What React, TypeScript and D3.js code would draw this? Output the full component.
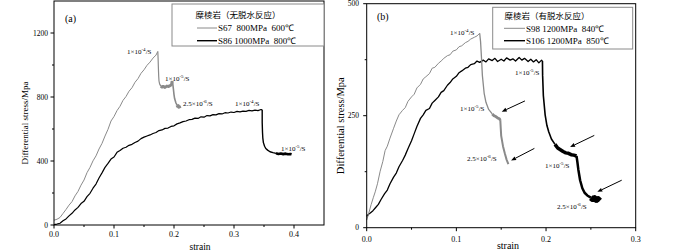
import React from "react";
import * as d3 from "d3";

type P = [number, number];

// ---------- Panel (a) data ----------
const s67Load: P[] = [
  [0, 30], [0.005, 36], [0.01, 47], [0.015, 72], [0.02, 97], [0.025, 124], [0.03, 146], [0.035, 182],
  [0.04, 210], [0.045, 249], [0.05, 281], [0.055, 327], [0.06, 360], [0.065, 401], [0.07, 432],
  [0.075, 475], [0.08, 510], [0.085, 556], [0.09, 598], [0.095, 650], [0.1, 678], [0.105, 715],
  [0.11, 742], [0.115, 779], [0.12, 803], [0.125, 836], [0.13, 858], [0.135, 892], [0.14, 915],
  [0.145, 948], [0.15, 970], [0.155, 998], [0.16, 1018], [0.165, 1043], [0.17, 1062], [0.173, 1085],
];
const s67Drop1: P[] = [
  [0.173, 1085], [0.1735, 1040], [0.174, 980], [0.1745, 930], [0.175, 900], [0.176, 882], [0.178, 868],
];
const s67Hold1: P[] = [
  [0.178, 868], [0.18, 862], [0.182, 866], [0.185, 860], [0.188, 868], [0.191, 866], [0.194, 872],
  [0.196, 880], [0.197, 900],
];
const s67Drop2: P[] = [
  [0.197, 900], [0.198, 880], [0.199, 850], [0.2, 815], [0.201, 790], [0.203, 765], [0.205, 750],
];
const s67Hold2: P[] = [
  [0.205, 750], [0.206, 742], [0.207, 746], [0.208, 736], [0.209, 740], [0.21, 730],
];

const s86Load: P[] = [
  [0, 2], [0.005, 6], [0.01, 11], [0.015, 26], [0.02, 38], [0.025, 57], [0.03, 73], [0.035, 94],
  [0.04, 110], [0.045, 134], [0.05, 148], [0.055, 177], [0.06, 198], [0.065, 230], [0.07, 256],
  [0.075, 294], [0.08, 326], [0.085, 360], [0.09, 385], [0.095, 412], [0.1, 425], [0.105, 454],
  [0.11, 466], [0.115, 480], [0.12, 486], [0.125, 498], [0.13, 504], [0.135, 516], [0.14, 524],
  [0.145, 540], [0.15, 549], [0.155, 556], [0.16, 563], [0.165, 572], [0.17, 578], [0.175, 590],
  [0.18, 594], [0.185, 604], [0.19, 606], [0.195, 616], [0.2, 620], [0.205, 632], [0.21, 638],
  [0.215, 646], [0.22, 650], [0.225, 658], [0.23, 660], [0.235, 668], [0.24, 666], [0.245, 676],
  [0.25, 674], [0.255, 684], [0.26, 682], [0.265, 690], [0.27, 688], [0.275, 696], [0.28, 694],
  [0.285, 702], [0.29, 700], [0.295, 706], [0.3, 703], [0.305, 710], [0.31, 707], [0.315, 712],
  [0.32, 710], [0.325, 716], [0.33, 713], [0.335, 718], [0.34, 715], [0.345, 722], [0.347, 720],
];
const s86Drop: P[] = [
  [0.347, 720], [0.347, 640], [0.3475, 580], [0.348, 545], [0.349, 515], [0.351, 492], [0.353, 478],
  [0.356, 468], [0.36, 458], [0.365, 452], [0.37, 448],
];
const s86Hold: P[] = [
  [0.37, 448], [0.374, 444], [0.378, 447], [0.382, 443], [0.386, 446], [0.39, 442], [0.394, 444],
  [0.396, 442],
];

// ---------- Panel (b) data ----------
const s98Load: P[] = [
  [0, 17], [0.002, 30], [0.005, 52], [0.0075, 68], [0.0095, 80], [0.012, 98], [0.015, 126],
  [0.018, 148], [0.0205, 172], [0.023, 182], [0.026, 200], [0.03, 222], [0.033, 238], [0.036, 252],
  [0.04, 262], [0.043, 268], [0.046, 282], [0.05, 292], [0.053, 298], [0.056, 312], [0.06, 320],
  [0.063, 332], [0.066, 337], [0.07, 344], [0.073, 356], [0.076, 358], [0.08, 367], [0.083, 372],
  [0.086, 378], [0.09, 384], [0.093, 386], [0.096, 394], [0.1, 397], [0.103, 404], [0.106, 406],
  [0.11, 413], [0.113, 416], [0.116, 421], [0.12, 425], [0.123, 428], [0.126, 434],
];
const s98Drop1: P[] = [
  [0.126, 434], [0.127, 415], [0.128, 380], [0.129, 340], [0.131, 300], [0.133, 280], [0.136, 264],
  [0.14, 254],
];
const s98Hold1: P[] = [
  [0.14, 254], [0.142, 250], [0.144, 248], [0.146, 245], [0.148, 243], [0.149, 240],
];
const s98Drop2: P[] = [
  [0.149, 240], [0.1495, 222], [0.15, 205], [0.152, 182], [0.154, 166], [0.156, 152], [0.158, 142],
];

const s106Load: P[] = [
  [0, 25], [0.002, 30], [0.004, 33], [0.007, 38], [0.01, 45], [0.013, 52], [0.016, 63], [0.02, 76],
  [0.023, 84], [0.026, 98], [0.03, 113], [0.033, 122], [0.036, 136], [0.04, 150], [0.043, 162],
  [0.046, 176], [0.05, 194], [0.053, 210], [0.056, 226], [0.06, 244], [0.063, 252], [0.066, 262],
  [0.07, 266], [0.073, 278], [0.076, 284], [0.08, 292], [0.083, 302], [0.086, 306], [0.09, 318],
  [0.093, 324], [0.096, 332], [0.1, 338], [0.103, 346], [0.106, 350], [0.11, 356], [0.113, 358],
  [0.116, 364], [0.12, 366], [0.123, 372], [0.126, 369], [0.13, 374], [0.133, 370], [0.136, 377],
  [0.14, 373], [0.143, 378], [0.146, 371], [0.15, 376], [0.153, 372], [0.156, 379], [0.16, 374],
  [0.163, 377], [0.166, 372], [0.17, 380], [0.173, 374], [0.176, 378], [0.18, 371], [0.183, 376],
  [0.186, 370], [0.189, 375], [0.192, 368], [0.195, 374], [0.196, 372],
];
const s106Drop1: P[] = [
  [0.196, 372], [0.1962, 340], [0.197, 295], [0.199, 252], [0.201, 228], [0.203, 214], [0.206, 198],
  [0.21, 186],
];
const s106Hold1: P[] = [
  [0.21, 186], [0.213, 178], [0.216, 174], [0.219, 170], [0.222, 167], [0.225, 166], [0.228, 163],
  [0.231, 162], [0.234, 160],
];
const s106Drop2: P[] = [
  [0.234, 160], [0.235, 146], [0.236, 130], [0.238, 106], [0.2405, 88], [0.243, 78], [0.246, 72],
  [0.25, 67],
];
const s106Hold2: P[] = [
  [0.25, 67], [0.252, 64], [0.254, 66], [0.256, 62], [0.258, 64], [0.26, 60],
];

// ---------- Ticks ----------
const aXTicks = [0, 0.1, 0.2, 0.3, 0.4];
const aXMinor = [0.05, 0.15, 0.25, 0.35];
const aXTickLabels = ["0.0", "0.1", "0.2", "0.3", "0.4"];
const aYTicks = [0, 400, 800, 1200];
const aYMinor = [200, 600, 1000];
const aYTickLabels = ["0", "400", "800", "1200"];

const bXTicks = [0, 0.1, 0.2, 0.3];
const bXMinor = [0.05, 0.15, 0.25];
const bXTickLabels = ["0.0", "0.1", "0.2", "0.3"];
const bYTicks = [0, 250, 500];
const bYMinor = [125, 375];
const bYTickLabels = ["0", "250", "500"];

// ---------- Annotations ----------
type Note = { base: string; exp: string; x: number; y: number };
const aNotes: Note[] = [
  { base: "1×10", exp: "-4", x: 127, y: 54 },
  { base: "1×10", exp: "-5", x: 165, y: 81 },
  { base: "2.5×10", exp: "-6", x: 183, y: 106 },
  { base: "1×10", exp: "-4", x: 235, y: 106 },
  { base: "1×10", exp: "-5", x: 281, y: 151 },
];
const bNotes: Note[] = [
  { base: "1×10", exp: "-4", x: 450, y: 35 },
  { base: "1×10", exp: "-5", x: 515, y: 75 },
  { base: "1×10", exp: "-5", x: 460, y: 111 },
  { base: "2.5×10", exp: "-6", x: 467, y: 161 },
  { base: "1×10", exp: "-5", x: 545, y: 168 },
  { base: "2.5×10", exp: "-6", x: 557, y: 209 },
];
// arrows in data coordinates: [tail, head]
const bArrows: [P, P][] = [
  [[0.1765, 283], [0.1506, 259]],
  [[0.187, 177], [0.161, 150]],
  [[0.2538, 206], [0.2268, 180]],
  [[0.2844, 106], [0.2572, 80]],
];

const GRAY = "#8a8a8a";
const SERIF = "'Liberation Serif', 'Times New Roman', serif";
const CJK = "'Noto Sans CJK SC', sans-serif";

function NoteText({ n }: { n: Note }) {
  return (
    <text x={n.x} y={n.y} fontSize={7} fontFamily={SERIF} fill="#000">
      {n.base}
      <tspan dy={-3} fontSize={5}>{n.exp}</tspan>
      <tspan dy={3} fontSize={7}>/S</tspan>
    </text>
  );
}

type Seg = { pts: P[]; color: string; w: number };

function Panel(props: {
  x0: number; x1: number; y0: number; y1: number;
  xDom: [number, number]; yDom: [number, number];
  xTicks: number[]; xMinor: number[]; xLabels: string[];
  yTicks: number[]; yMinor: number[]; yLabels: string[];
  segs: Seg[]; xLabelY: number; yLabelX: number; yTitleX: number; yTitleSize: number;
  xTitleX: number; xTitleY: number; xTitleSize: number;
  arrows?: [P, P][];
}) {
  const x = d3.scaleLinear().domain(props.xDom).range([props.x0, props.x1]);
  const y = d3.scaleLinear().domain(props.yDom).range([props.y0, props.y1]);
  const line = d3.line<P>().x((d) => x(d[0])).y((d) => y(d[1]));
  const tl = 3.5;
  const tm = 2;
  return (
    <g>
      {props.segs.map((s, i) => (
        <path key={i} d={line(s.pts) || ""} fill="none" stroke={s.color} strokeWidth={s.w}
          strokeLinejoin="round" strokeLinecap="butt" />
      ))}
      <rect x={props.x0} y={props.y1} width={props.x1 - props.x0} height={props.y0 - props.y1}
        fill="none" stroke="#000" strokeWidth={1} />
      {props.xTicks.map((t, i) => (
        <g key={"xt" + i}>
          <line x1={x(t)} x2={x(t)} y1={props.y0} y2={props.y0 + tl} stroke="#000" strokeWidth={1} />
          <text x={x(t)} y={props.xLabelY} fontSize={8} fontFamily={SERIF} textAnchor="middle">
            {props.xLabels[i]}
          </text>
        </g>
      ))}
      {props.xMinor.map((t, i) => (
        <line key={"xm" + i} x1={x(t)} x2={x(t)} y1={props.y0} y2={props.y0 + tm} stroke="#000" strokeWidth={1} />
      ))}
      {props.yTicks.map((t, i) => (
        <g key={"yt" + i}>
          <line x1={props.x0 - tl} x2={props.x0} y1={y(t)} y2={y(t)} stroke="#000" strokeWidth={1} />
          <text x={props.yLabelX} y={y(t) + 2.6} fontSize={7.5} fontFamily={SERIF} textAnchor="end">
            {props.yLabels[i]}
          </text>
        </g>
      ))}
      {props.yMinor.map((t, i) => (
        <line key={"ym" + i} x1={props.x0 - tm} x2={props.x0} y1={y(t)} y2={y(t)} stroke="#000" strokeWidth={1} />
      ))}
      <text x={props.xTitleX} y={props.xTitleY} fontSize={props.xTitleSize} fontFamily={SERIF} textAnchor="middle">
        strain
      </text>
      <text transform={`translate(${props.yTitleX},${(props.y0 + props.y1) / 2 + 10}) rotate(-90)`}
        fontSize={props.yTitleSize} fontFamily={SERIF} textAnchor="middle">
        Differential stress/Mpa
      </text>
      {(props.arrows || []).map((a, i) => {
        const tx = x(a[0][0]), ty = y(a[0][1]), hx = x(a[1][0]), hy = y(a[1][1]);
        const ang = Math.atan2(hy - ty, hx - tx);
        const L = 5, W = 2;
        const bx = hx - L * Math.cos(ang), by = hy - L * Math.sin(ang);
        const px = -Math.sin(ang) * W, py = Math.cos(ang) * W;
        return (
          <g key={"ar" + i}>
            <line x1={tx} y1={ty} x2={bx} y2={by} stroke="#000" strokeWidth={1} />
            <polygon points={`${hx},${hy} ${bx + px},${by + py} ${bx - px},${by - py}`} fill="#000" />
          </g>
        );
      })}
    </g>
  );
}

const pre: React.CSSProperties = { whiteSpace: "pre" };

export default function App() {
  return (
    <div style={{ position: "fixed", left: 0, top: 0, width: 700, height: 252, background: "#fff" }}>
      <svg width={700} height={252} viewBox="0 0 700 252" style={{ display: "block" }}>
        <rect width={700} height={252} fill="#fff" />
        <Panel
          x0={54} x1={324} y0={225} y1={1}
          xDom={[0, 0.45]} yDom={[0, 1400]}
          xTicks={aXTicks} xMinor={aXMinor} xLabels={aXTickLabels}
          yTicks={aYTicks} yMinor={aYMinor} yLabels={aYTickLabels}
          xLabelY={237} yLabelX={48}
          yTitleX={28} yTitleSize={9}
          xTitleX={200} xTitleY={250} xTitleSize={9.5}
          segs={[
            { pts: s86Load, color: "#000", w: 1.2 },
            { pts: s86Drop, color: "#000", w: 1.4 },
            { pts: s86Hold, color: "#000", w: 2.6 },
            { pts: s67Load, color: GRAY, w: 1 },
            { pts: s67Drop1, color: GRAY, w: 1.2 },
            { pts: s67Hold1, color: GRAY, w: 3 },
            { pts: s67Drop2, color: GRAY, w: 1.6 },
            { pts: s67Hold2, color: GRAY, w: 3 },
          ]}
        />
        <text x={65} y={22} fontSize={10} fontFamily={SERIF}>(a)</text>
        {aNotes.map((n, i) => <NoteText key={i} n={n} />)}
        <rect x={172} y={4} width={152} height={42} fill="#fff" stroke={GRAY} strokeWidth={1} />
        <text x={238} y={18} fontSize={8.5} fontFamily={CJK} textAnchor="middle">糜棱岩（无脱水反应）</text>
        <line x1={197} x2={217} y1={28} y2={28} stroke={GRAY} strokeWidth={1} />
        <text x={218} y={31} fontSize={9} fontFamily={SERIF} style={pre}>{"S67  800MPa  600℃"}</text>
        <line x1={197} x2={217} y1={40.7} y2={40.7} stroke="#000" strokeWidth={1.4} />
        <text x={218} y={44} fontSize={9} fontFamily={SERIF} style={pre}>{"S86 1000MPa  800℃"}</text>

        <Panel
          x0={366.7} x1={635.7} y0={227.7} y1={3.7}
          xDom={[0, 0.3]} yDom={[0, 500]}
          xTicks={bXTicks} xMinor={bXMinor} xLabels={bXTickLabels}
          yTicks={bYTicks} yMinor={bYMinor} yLabels={bYTickLabels}
          xLabelY={242} yLabelX={359}
          yTitleX={344} yTitleSize={10.5}
          xTitleX={508} xTitleY={249} xTitleSize={10}
          arrows={bArrows}
          segs={[
            { pts: s106Load, color: "#000", w: 1.3 },
            { pts: s106Drop1, color: "#000", w: 1.6 },
            { pts: s106Hold1, color: "#000", w: 3.5 },
            { pts: s106Drop2, color: "#000", w: 2.5 },
            { pts: s106Hold2, color: "#000", w: 6 },
            { pts: s98Load, color: GRAY, w: 1 },
            { pts: s98Drop1, color: GRAY, w: 1.3 },
            { pts: s98Hold1, color: GRAY, w: 2.8 },
            { pts: s98Drop2, color: GRAY, w: 2 },
          ]}
        />
        <text x={377} y={20} fontSize={10} fontFamily={SERIF}>(b)</text>
        {bNotes.map((n, i) => <NoteText key={i} n={n} />)}
        <rect x={492.7} y={7.3} width={140} height={41.7} fill="#fff" stroke={GRAY} strokeWidth={1} />
        <text x={547} y={19} fontSize={8.5} fontFamily={CJK} textAnchor="middle">糜棱岩（有脱水反应）</text>
        <line x1={504} x2={525} y1={28.3} y2={28.3} stroke={GRAY} strokeWidth={1} />
        <text x={526} y={31.5} fontSize={9} fontFamily={SERIF} style={pre}>{"S98 1200MPa  840℃"}</text>
        <line x1={504} x2={525} y1={40.7} y2={40.7} stroke="#000" strokeWidth={1.4} />
        <text x={526} y={44} fontSize={9} fontFamily={SERIF} style={pre}>{"S106 1200MPa  850℃"}</text>
      </svg>
    </div>
  );
}
